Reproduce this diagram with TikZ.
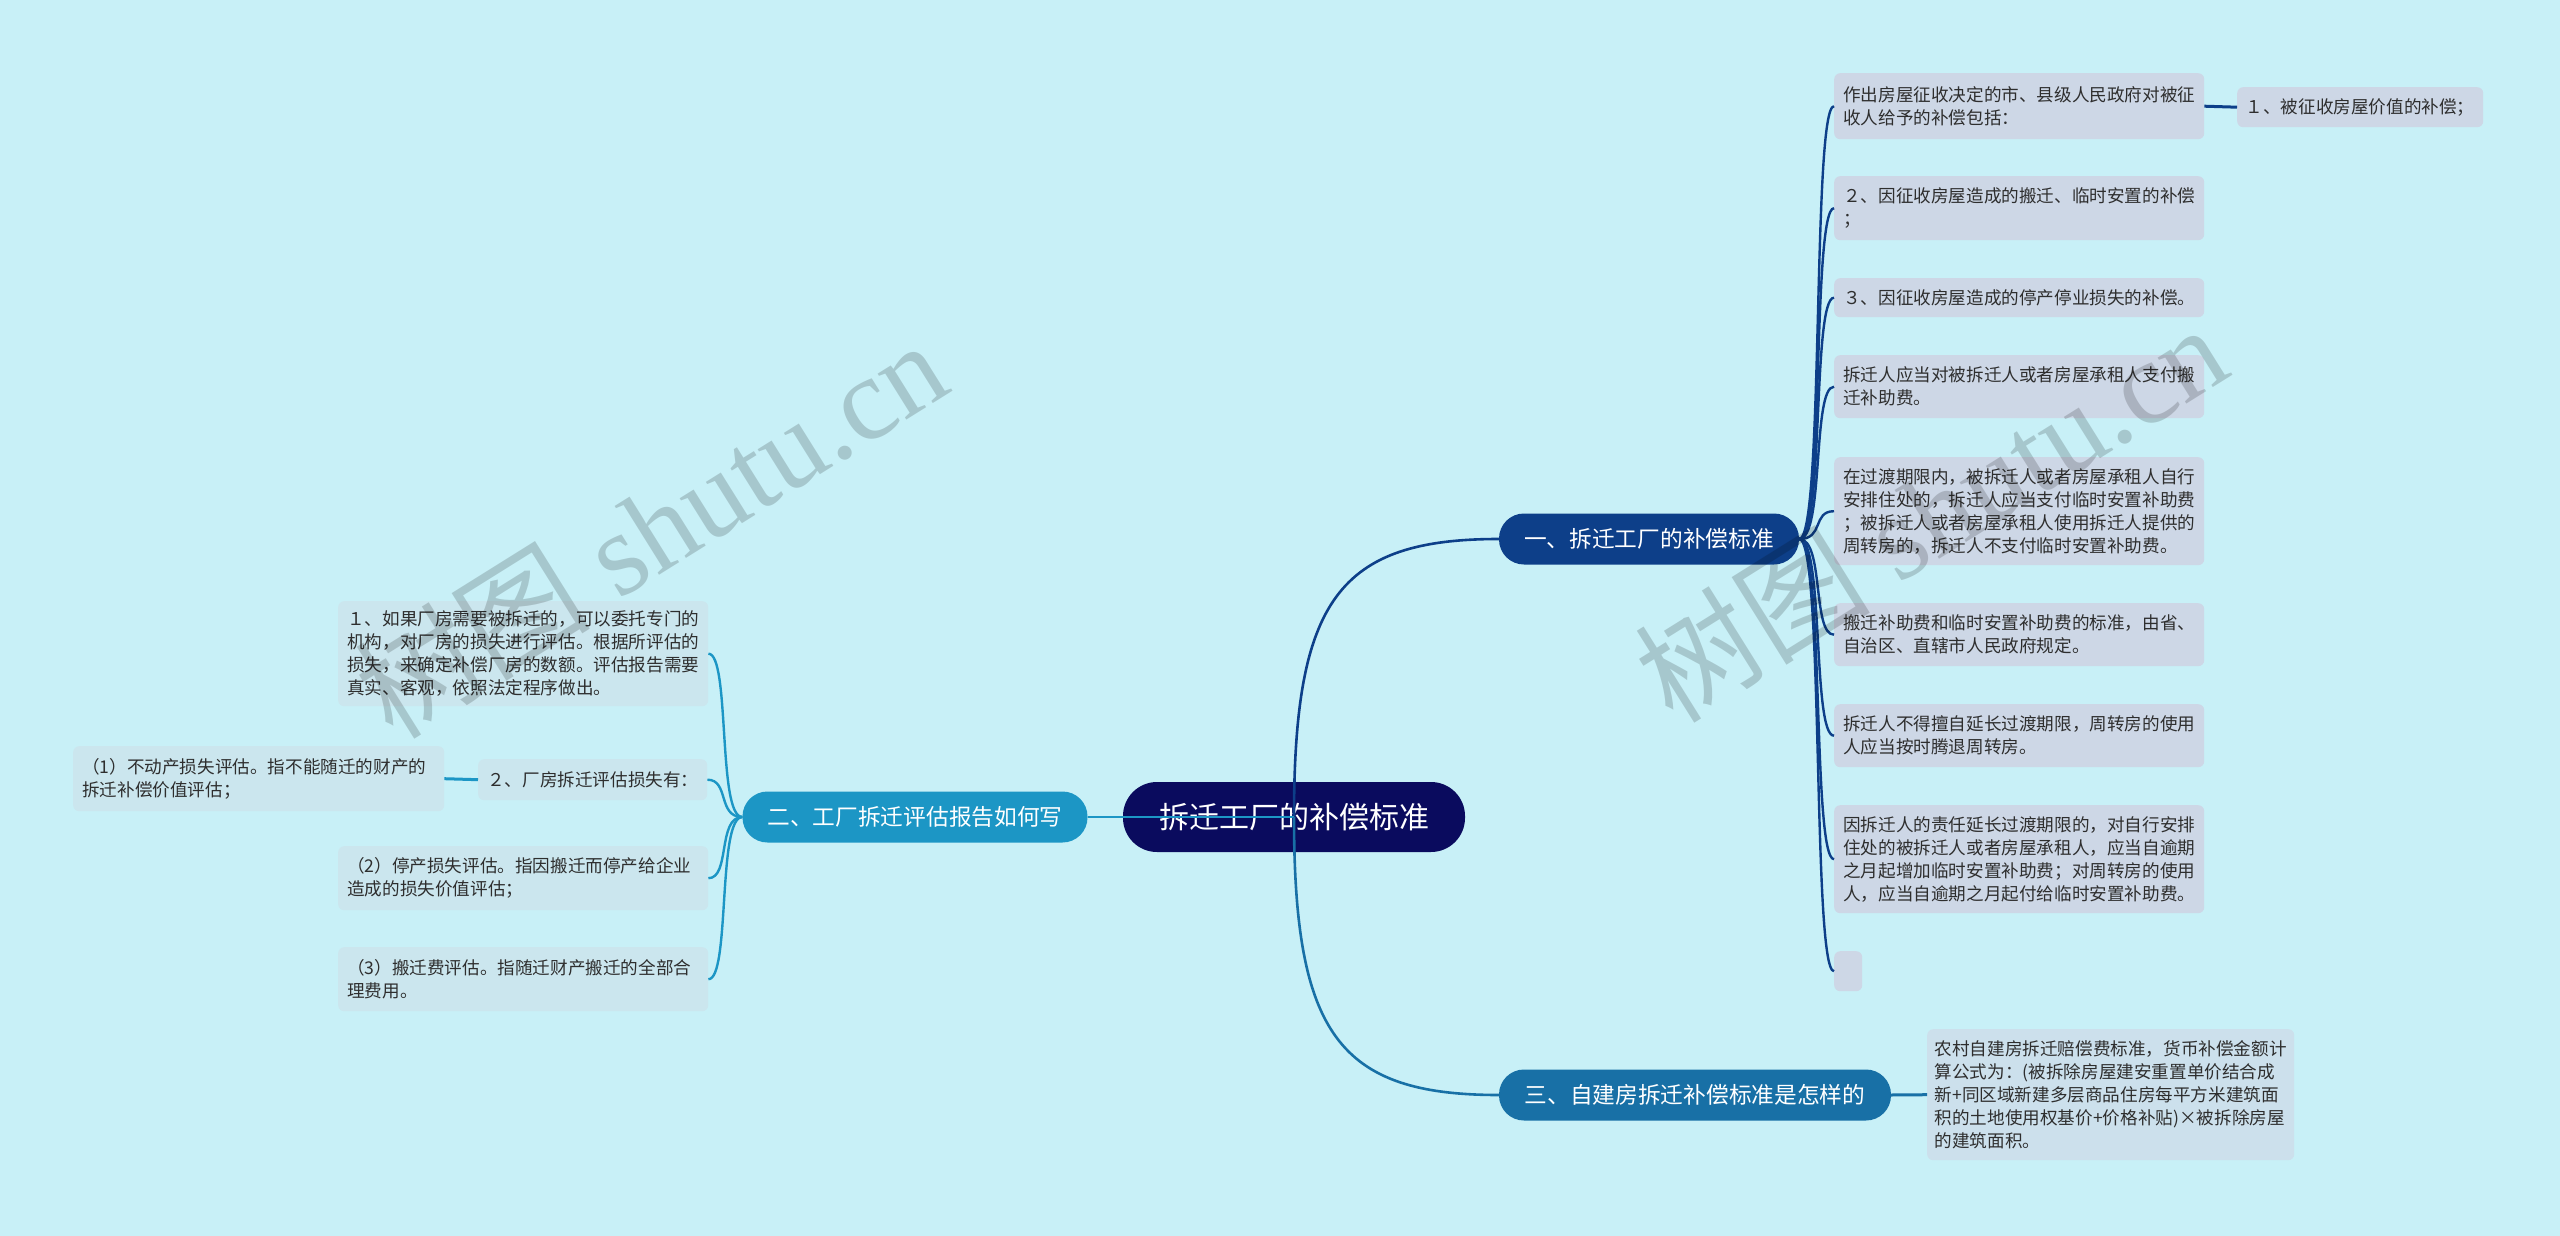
\documentclass[tikz,border=0pt]{standalone}
\usepackage{fontspec}
\setmainfont{Noto Sans CJK SC}
\newfontfamily\wmlatin{Liberation Serif}
\newfontfamily\wmcjk{Noto Sans CJK SC}
\definecolor{bg}{HTML}{C8F0F7}
\definecolor{rootc}{HTML}{0A0B5E}
\definecolor{onec}{HTML}{0D3F89}
\definecolor{twoc}{HTML}{1C96C5}
\definecolor{threec}{HTML}{1870A6}
\definecolor{rfill}{HTML}{CDD7E6}
\definecolor{lfill}{HTML}{CBE6EE}
\definecolor{tfill}{HTML}{CCE0EC}
\definecolor{txt}{HTML}{2E2E2E}
\tikzset{
  box/.style={draw=none, rounded corners=6pt, inner xsep=9pt, inner ysep=0pt,
    align=left, anchor=north west, text=txt, font=\fontsize{17.6}{23}\selectfont},
  rbox/.style={box, fill=rfill},
  lbox/.style={box, fill=lfill},
  tbox/.style={box, fill=tfill, inner xsep=7.5pt},
  lvl/.style={draw=none, inner sep=0pt, text=white, font=\fontsize{22.7}{26}\selectfont,
    minimum height=51pt, rounded corners=25pt},
  rootbox/.style={draw=none, inner sep=0pt, text=white, fill=rootc,
    font=\fontsize{30}{34}\selectfont, minimum width=342pt, minimum height=70pt, rounded corners=34pt},
  conone/.style={draw=onec, line width=2.4pt},
  contwo/.style={draw=twoc, line width=2.4pt},
  conthree/.style={draw=threec, line width=2.4pt},
  wm/.style={text=black, opacity=0.17, rotate=32, inner sep=0pt}
}
\begin{document}
\begin{tikzpicture}[x=1pt,y=-1pt]
\fill[bg] (0,0) rectangle (2560,1236);
\useasboundingbox (0,0) rectangle (2560,1236);

% level 1 and root
\node[lvl, fill=onec, minimum width=300pt] (one) at (1649,539) {一、拆迁工厂的补偿标准};
\node[lvl, fill=twoc, minimum width=345pt] (two) at (915,817) {二、工厂拆迁评估报告如何写};
\node[lvl, fill=threec, minimum width=392pt] (three) at (1695,1095) {三、自建房拆迁补偿标准是怎样的};
\node[rootbox] (root) at (1294,817) {拆迁工厂的补偿标准};

% right children
\node[rbox, text width=352pt, minimum height=66pt] (r1) at (1834,73) {作出房屋征收决定的市、县级人民政府对被征\\收人给予的补偿包括：};
\node[rbox, text width=229pt, inner xsep=8.5pt, minimum height=40pt] (r1a) at (2237,87) {１、被征收房屋价值的补偿；};
\node[rbox, text width=352pt, minimum height=64pt] (r2) at (1834,176) {２、因征收房屋造成的搬迁、临时安置的补偿\\；};
\node[rbox, text width=352pt, minimum height=39pt] (r3) at (1834,278) {３、因征收房屋造成的停产停业损失的补偿。};
\node[rbox, text width=352pt, minimum height=63pt] (r4) at (1834,355) {拆迁人应当对被拆迁人或者房屋承租人支付搬\\迁补助费。};
\node[rbox, text width=352pt, minimum height=108pt] (r5) at (1834,457) {在过渡期限内，被拆迁人或者房屋承租人自行\\安排住处的，拆迁人应当支付临时安置补助费\\；被拆迁人或者房屋承租人使用拆迁人提供的\\周转房的，拆迁人不支付临时安置补助费。};
\node[rbox, text width=352pt, minimum height=63pt] (r6) at (1834,603) {搬迁补助费和临时安置补助费的标准，由省、\\自治区、直辖市人民政府规定。};
\node[rbox, text width=352pt, minimum height=63pt] (r7) at (1834,704) {拆迁人不得擅自延长过渡期限，周转房的使用\\人应当按时腾退周转房。};
\node[rbox, text width=352pt, minimum height=108pt] (r8) at (1834,805) {因拆迁人的责任延长过渡期限的，对自行安排\\住处的被拆迁人或者房屋承租人，应当自逾期\\之月起增加临时安置补助费；对周转房的使用\\人，应当自逾期之月起付给临时安置补助费。};
\node[rbox, inner xsep=0pt, minimum width=28pt, minimum height=40pt] (r9) at (1834,951) {};

% left children
\node[lbox, text width=352pt, minimum height=105pt] (la) at (338,601) {１、如果厂房需要被拆迁的，可以委托专门的\\机构，对厂房的损失进行评估。根据所评估的\\损失，来确定补偿厂房的数额。评估报告需要\\真实、客观，依照法定程序做出。};
\node[lbox, text width=211pt, minimum height=41pt] (lb) at (478,759) {２、厂房拆迁评估损失有：};
\node[lbox, text width=353pt, minimum height=65pt] (lb1) at (73,746) {（1）不动产损失评估。指不能随迁的财产的\\拆迁补偿价值评估；};
\node[lbox, text width=352pt, minimum height=64pt] (lc) at (338,846) {（2）停产损失评估。指因搬迁而停产给企业\\造成的损失价值评估；};
\node[lbox, text width=352pt, minimum height=64pt] (ld) at (338,947) {（3）搬迁费评估。指随迁财产搬迁的全部合\\理费用。};

% child of three
\node[tbox, text width=352pt, minimum height=131pt] (t1) at (1927,1029) {农村自建房拆迁赔偿费标准，货币补偿金额计\\算公式为：(被拆除房屋建安重置单价结合成\\新+同区域新建多层商品住房每平方米建筑面\\积的土地使用权基价+价格补贴)×被拆除房屋\\的建筑面积。};

% connectors from root (drawn over root as in reference)
\draw[conone, line width=2.6pt] (root.center) .. controls +(0,-217) and +(-160,0) .. (one.west);
\draw[contwo, line width=2.6pt] (root.center) -- (two.east);
\draw[conthree, line width=2.6pt] (root.center) .. controls +(0,217) and +(-160,0) .. (three.west);

% right bracket
\foreach \c in {r1,r2,r3,r4,r5,r6,r7,r8,r9}{
  \draw[conone] (one.east) .. controls +(25,0) and +(-22,0) .. (\c.west);
}
\draw[conone, line width=3pt] (r1.east) -- (r1a.west);

% left bracket
\foreach \c in {la,lb,lc,ld}{
  \draw[contwo] (two.west) .. controls +(-25,0) and +(22,0) .. (\c.east);
}
\draw[contwo, line width=3pt] (lb.west) -- (lb1.east);

% three
\draw[conthree, line width=3pt] (three.east) -- (t1.west);

% watermarks
\node[wm] (wm1) at (650,528) {\fontsize{118}{118}\selectfont\wmcjk 树图\wmlatin{} shutu.cn};
\node[wm] (wm2) at (1930,512) {\fontsize{118}{118}\selectfont\wmcjk 树图\wmlatin{} shutu.cn};
\end{tikzpicture}
\end{document}
